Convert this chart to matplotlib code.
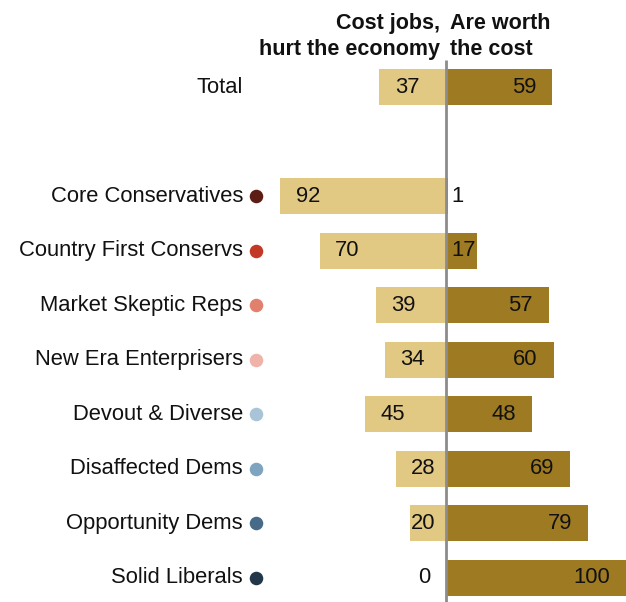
import matplotlib
matplotlib.use("Agg")
import matplotlib.pyplot as plt

categories = ["Total", "Core Conservatives", "Country First Conservs", "Market Skeptic Reps",
              "New Era Enterprisers", "Devout & Diverse", "Disaffected Dems",
              "Opportunity Dems", "Solid Liberals"]
cost_jobs = [37, 92, 70, 39, 34, 45, 28, 20, 0]
worth_cost = [59, 1, 17, 57, 60, 48, 69, 79, 100]
dot_colors = [None, "#5C1D14", "#C23A26", "#E2806E", "#EFB3A9", "#AAC4D7", "#7FA4C0", "#466A87", "#22364A"]
header_left = "Cost jobs,\nhurt the economy"
header_right = "Are worth\nthe cost"

LIGHT = "#E2C983"
DARK = "#9E7B22"
TXT = "#111111"

plt.rcParams['font.family'] = ['Liberation Sans', 'DejaVu Sans']

fig = plt.figure(figsize=(6.26, 6.02), dpi=100)
ax = fig.add_axes([0, 0, 1, 1])
ax.set_xlim(-247.8, 100)
ax.set_ylim(9.44, -1.595)
ax.axis('off')

ypos = [0] + [i + 2 for i in range(len(categories) - 1)]
h = 0.66

ax.barh(ypos, [-v for v in cost_jobs], height=h, color=LIGHT, left=0)
ax.barh(ypos, worth_cost, height=h, color=DARK, left=0)
ax.plot([0, 0], [-0.495, 9.44], color="#8C8C8C", lw=2, solid_capstyle='butt', zorder=5)

fs = 15.8
for y, cat, lv, rv, dc in zip(ypos, categories, cost_jobs, worth_cost, dot_colors):
    ax.text(-112.8, y, cat, ha='right', va='center', fontsize=fs, color=TXT)
    if dc is not None:
        ax.scatter([-105.6], [y], s=95, color=dc, zorder=6, clip_on=False, linewidths=0)
    # left value
    if lv >= 23:
        ax.text(-lv + 8.5, y, str(lv), ha='left', va='center', fontsize=fs, color=TXT)
    elif lv > 0:
        ax.text(-6, y, str(lv), ha='right', va='center', fontsize=fs, color=TXT)
    else:
        ax.text(-8.5, y, str(lv), ha='right', va='center', fontsize=fs, color=TXT)
    # right value
    if rv >= 25:
        ax.text(rv - 9, y, str(rv), ha='right', va='center', fontsize=fs, color=TXT)
    else:
        ax.text(3, y, str(rv), ha='left', va='center', fontsize=fs, color=TXT)

hfam = ['Liberation Sans Narrow', 'Liberation Sans', 'DejaVu Sans']
ax.text(-3.3, -0.5, header_left, ha='right', va='bottom', fontsize=15.5, fontweight='bold',
        family=hfam, linespacing=1.3, color=TXT)
ax.text(2.2, -0.5, header_right, ha='left', va='bottom', fontsize=15.5, fontweight='bold',
        family=hfam, linespacing=1.3, color=TXT)

fig.savefig("out.png", dpi=100)
